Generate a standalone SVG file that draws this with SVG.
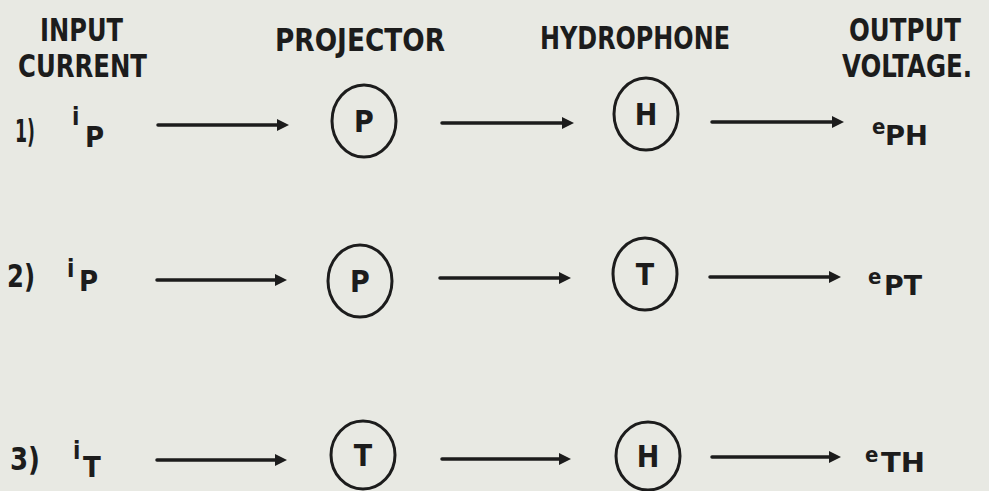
<svg xmlns="http://www.w3.org/2000/svg" width="989" height="491" viewBox="0 0 989 491">
<style>
text{font-family:"DejaVu Sans Condensed","DejaVu Sans","Liberation Sans",sans-serif;font-stretch:condensed;font-weight:bold;fill:#1c1c1c}
.hd{font-size:32px}
.num{font-size:32px}
.sup{font-size:24px}
.sub{font-size:29px}
.osup{font-size:22px}
.osub{font-size:26px}
.cl{font-size:30px;text-anchor:middle}
.node ellipse{fill:none;stroke:#1c1c1c;stroke-width:3}
.conn line{stroke:#1c1c1c;stroke-width:3.5;stroke-linecap:round}
</style>
<defs>
<marker id="ah" markerUnits="userSpaceOnUse" markerWidth="14" markerHeight="14" refX="1" refY="7" orient="auto">
<path d="M0,1 L12,7 L0,13 z" fill="#1c1c1c"/>
</marker>
</defs>
<rect width="989" height="491" fill="#e8e9e3"/>
<g id="headers">
<text class="hd" x="40" y="41" textLength="83" lengthAdjust="spacingAndGlyphs">INPUT</text>
<text class="hd" x="18" y="77" textLength="129" lengthAdjust="spacingAndGlyphs">CURRENT</text>
<text class="hd" x="275" y="51" textLength="170" lengthAdjust="spacingAndGlyphs">PROJECTOR</text>
<text class="hd" x="540" y="49" textLength="190" lengthAdjust="spacingAndGlyphs">HYDROPHONE</text>
<text class="hd" x="849" y="41" textLength="112" lengthAdjust="spacingAndGlyphs">OUTPUT</text>
<text x="0" y="0" transform="translate(842,77) scale(1,1.18)" style="font-size:27px" textLength="130" lengthAdjust="spacingAndGlyphs">VOLTAGE.</text>
</g>
<g id="row1-input">
<text class="num" x="15" y="142" textLength="20" lengthAdjust="spacingAndGlyphs">1)</text>
<text><tspan class="sup" x="72" y="125">i</tspan><tspan class="sub" x="85" y="147">P</tspan></text>
</g>
<g id="row2-input">
<text class="num" x="7" y="287" textLength="28" lengthAdjust="spacingAndGlyphs">2)</text>
<text><tspan class="sup" x="67" y="277">i</tspan><tspan class="sub" x="79" y="291">P</tspan></text>
</g>
<g id="row3-input">
<text class="num" x="10" y="470" textLength="30" lengthAdjust="spacingAndGlyphs">3)</text>
<text><tspan class="sup" x="73" y="459">i</tspan><tspan class="sub" x="83" y="477">T</tspan></text>
</g>
<g id="r1-P" class="node"><ellipse cx="364" cy="121" rx="32" ry="36"/><text class="cl" x="364" y="132">P</text></g>
<g id="r1-H" class="node"><ellipse cx="646" cy="114" rx="32" ry="36"/><text class="cl" x="646" y="125">H</text></g>
<g id="r2-P" class="node"><ellipse cx="360" cy="281" rx="32" ry="36"/><text class="cl" x="360" y="292">P</text></g>
<g id="r2-T" class="node"><ellipse cx="645" cy="274" rx="32" ry="36"/><text class="cl" x="645" y="285">T</text></g>
<g id="r3-T" class="node"><ellipse cx="363" cy="455" rx="32" ry="34"/><text class="cl" x="363" y="466">T</text></g>
<g id="r3-H" class="node"><ellipse cx="648" cy="456" rx="32" ry="34"/><text class="cl" x="648" y="467">H</text></g>
<g id="row1-output"><text><tspan class="osup" x="872" y="134">e</tspan><tspan class="osub" x="885" y="145" textLength="43" lengthAdjust="spacingAndGlyphs">PH</tspan></text></g>
<g id="row2-output"><text><tspan class="osup" x="868" y="284">e</tspan><tspan class="osub" x="884" y="295" textLength="38" lengthAdjust="spacingAndGlyphs">PT</tspan></text></g>
<g id="row3-output"><text><tspan class="osup" x="865" y="462">e</tspan><tspan class="osub" x="881" y="472" textLength="44" lengthAdjust="spacingAndGlyphs">TH</tspan></text></g>
<g id="connectors" class="conn">
<line x1="158" y1="125" x2="278" y2="125" marker-end="url(#ah)"/>
<line x1="442" y1="123" x2="563" y2="123" marker-end="url(#ah)"/>
<line x1="712" y1="122" x2="833" y2="122" marker-end="url(#ah)"/>
<line x1="157" y1="280" x2="276" y2="280" marker-end="url(#ah)"/>
<line x1="440" y1="278" x2="560" y2="278" marker-end="url(#ah)"/>
<line x1="710" y1="277" x2="830" y2="277" marker-end="url(#ah)"/>
<line x1="157" y1="460" x2="276" y2="460" marker-end="url(#ah)"/>
<line x1="442" y1="459" x2="560" y2="459" marker-end="url(#ah)"/>
<line x1="712" y1="457" x2="830" y2="457" marker-end="url(#ah)"/>
</g>
</svg>
